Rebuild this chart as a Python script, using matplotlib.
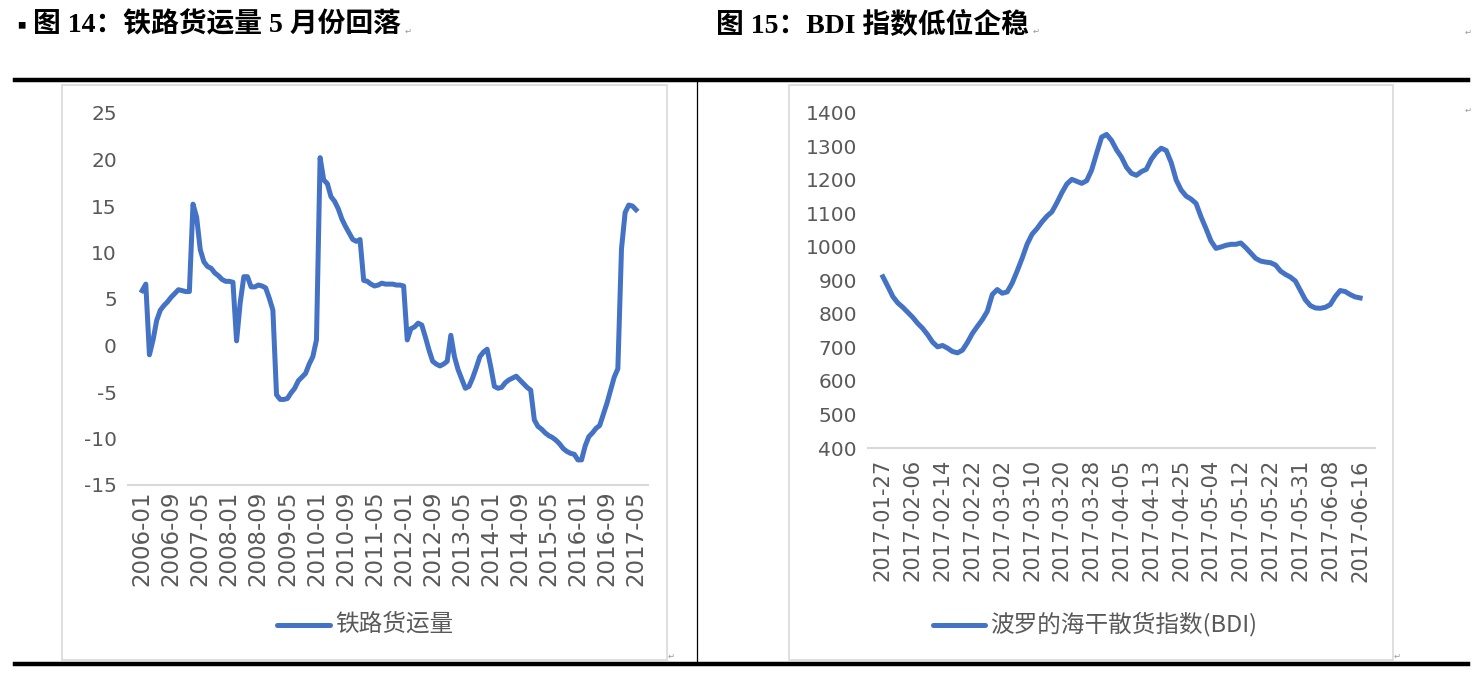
import numpy as np
import matplotlib
matplotlib.use("Agg")
import matplotlib.pyplot as plt
from matplotlib.patches import Rectangle
from matplotlib.lines import Line2D

plt.rcParams["axes.unicode_minus"] = False

# Left chart data: railway freight volume yoy (%), monthly 2006-01 .. 2017-05
rail_values = [
    5.9, 6.6, -1.0, 0.6, 2.7, 3.8, 4.3, 4.7, 5.2, 5.6, 6.0, 5.9, 5.8, 5.8,
    15.2, 13.8, 10.3, 9.0, 8.5, 8.3, 7.8, 7.5, 7.1, 6.9, 6.9, 6.8, 0.5, 4.6,
    7.4, 7.4, 6.3, 6.3, 6.5, 6.4, 6.2, 5.1, 3.8, -5.3, -5.8, -5.8, -5.7, -5.1,
    -4.6, -3.8, -3.4, -3.0, -2.0, -1.2, 0.6, 20.2, 17.8, 17.4, 16.0, 15.5,
    14.7, 13.6, 12.8, 12.1, 11.4, 11.2, 11.4, 7.0, 6.9, 6.6, 6.4, 6.5, 6.7,
    6.6, 6.6, 6.6, 6.5, 6.5, 6.4, 0.6, 1.8, 2.0, 2.4, 2.2, 0.9, -0.5, -1.7,
    -2.0, -2.2, -2.0, -1.7, 1.1, -1.2, -2.6, -3.6, -4.6, -4.4, -3.5, -2.4,
    -1.2, -0.7, -0.4, -2.3, -4.4, -4.6, -4.5, -4.0, -3.7, -3.5, -3.3, -3.7,
    -4.1, -4.5, -4.8, -8.0, -8.7, -9.0, -9.4, -9.7, -9.9, -10.2, -10.6,
    -11.1, -11.4, -11.6, -11.7, -12.3, -12.3, -10.8, -9.8, -9.4, -8.9, -8.6,
    -7.4, -6.2, -4.8, -3.4, -2.5, 10.4, 14.3, 15.1, 15.0, 14.6,
]
rail_ticks = ["2006-01", "2006-09", "2007-05", "2008-01", "2008-09", "2009-05",
              "2010-01", "2010-09", "2011-05", "2012-01", "2012-09", "2013-05",
              "2014-01", "2014-09", "2015-05", "2016-01", "2016-09", "2017-05"]

# Right chart data: BDI, trading days 2017-01-27 .. 2017-06-16
bdi_values = [
    911, 882, 852, 833, 820, 805, 790, 772, 757, 738, 716, 702, 706, 698, 688,
    684, 692, 715, 742, 763, 783, 808, 858, 873, 862, 866, 892, 928, 966, 1008,
    1038, 1055, 1075, 1092, 1105, 1132, 1162, 1188, 1202, 1196, 1190, 1198,
    1230, 1280, 1328, 1336, 1318, 1290, 1268, 1238, 1220, 1214, 1225, 1232,
    1262, 1282, 1295, 1288, 1252, 1200, 1170, 1152, 1143, 1130, 1090, 1055,
    1018, 996, 1000, 1005, 1008, 1008, 1012, 998, 982, 966, 958, 955, 953, 946,
    928, 918, 910, 898, 870, 842, 825, 818, 817, 820, 828, 852, 870, 867, 858,
    851, 848,
]
bdi_ticks = ["2017-01-27", "2017-02-06", "2017-02-14", "2017-02-22", "2017-03-02",
             "2017-03-10", "2017-03-20", "2017-03-28", "2017-04-05", "2017-04-13",
             "2017-04-25", "2017-05-04", "2017-05-12", "2017-05-22", "2017-05-31",
             "2017-06-08", "2017-06-16"]

BLUE = "#4472C4"
GREY = "#595959"
NUM_FONT = ["DejaVu Sans"]
CJK_FONT = ["Noto Sans CJK SC", "DejaVu Sans"]
TITLE_FONT = ["Liberation Serif", "Noto Sans CJK SC", "DejaVu Sans"]

W, H = 1474, 677
fig = plt.figure(figsize=(W / 100, H / 100), dpi=100)


def px(x, y):
    # pixel (top-left origin) -> figure fraction
    return x / W, 1 - y / H


# document frame: titles, rules, divider, chart boxes
fig.text(*px(21, 26), "■", fontsize=6, va="center", ha="center", family=CJK_FONT)
fig.text(*px(33, 25), "图 14：铁路货运量 5 月份回落", fontsize=20, fontweight="bold",
         va="center", ha="left", family=TITLE_FONT)
fig.text(*px(716, 25), "图 15：BDI 指数低位企稳", fontsize=20, fontweight="bold",
         va="center", ha="left", family=TITLE_FONT)
for xx in (405, 1033):
    fig.text(*px(xx, 31), "↵", fontsize=6, color="#999999", va="center", family=CJK_FONT)
for xx, yy in ((1468, 32), (1468, 110), (671, 656), (1397, 656)):
    fig.text(*px(xx, yy), "↵", fontsize=6, color="#999999", va="center", ha="center",
             family=CJK_FONT)

fig.add_artist(Line2D([15 / W, 1468 / W], [1 - 80 / H] * 2, color="black", lw=3.2))
fig.add_artist(Line2D([15 / W, 1468 / W], [1 - 664 / H] * 2, color="black", lw=3.2))
fig.add_artist(Line2D([697 / W] * 2, [1 - 82 / H, 1 - 663 / H], color="black", lw=0.9))

for x0, x1 in ((62, 667), (789, 1393)):
    fig.add_artist(Rectangle((x0 / W, 1 - 660 / H), (x1 - x0) / W, (660 - 85) / H,
                             fill=False, edgecolor="#D9D9D9", lw=1.2))


def style_axes(ax, xsize, xpad):
    for s in ("top", "right", "left"):
        ax.spines[s].set_visible(False)
    ax.spines["bottom"].set_color("#D9D9D9")
    ax.spines["bottom"].set_linewidth(1.5)
    ax.tick_params(axis="y", length=0, colors=GREY, labelsize=14.5, pad=8)
    ax.tick_params(axis="x", length=0, colors=GREY, labelsize=xsize, pad=xpad)
    for lab in ax.get_yticklabels() + ax.get_xticklabels():
        lab.set_family(NUM_FONT)
    ax.patch.set_alpha(0)


# left chart
ax1 = fig.add_axes([128 / W, 1 - 485 / H, (648 - 128) / W, (485 - 113) / H])
x1 = np.arange(len(rail_values))
ax1.plot(x1, rail_values, color=BLUE, lw=3.6, solid_joinstyle="round")
ax1.set_ylim(-15, 25)
ax1.set_yticks(range(-15, 26, 5))
ax1.set_xlim(-3.9, 139.3)
ax1.set_xticks(np.arange(0, len(rail_values), 8))
ax1.set_xticklabels(rail_ticks, rotation=90)
style_axes(ax1, 16.5, 4)

# right chart
ax2 = fig.add_axes([868 / W, 1 - 448 / H, (1375 - 868) / W, (448 - 113) / H])
x2 = np.arange(len(bdi_values))
ax2.plot(x2, bdi_values, color=BLUE, lw=3.6, solid_joinstyle="round")
ax2.set_ylim(400, 1400)
ax2.set_yticks(range(400, 1401, 100))
ax2.set_xlim(-3.0, 99.0)
ax2.set_xticks(np.arange(0, len(bdi_values), 6))
ax2.set_xticklabels(bdi_ticks, rotation=90)
style_axes(ax2, 15.2, 8)

# legends
fig.add_artist(Line2D([277 / W, 330 / W], [1 - 625 / H] * 2, color=BLUE, lw=3.6,
                      solid_capstyle="round"))
fig.text(*px(335, 624), "铁路货运量", fontsize=17, color=GREY, va="center",
         ha="left", family=CJK_FONT)
fig.add_artist(Line2D([933 / W, 985 / W], [1 - 625 / H] * 2, color=BLUE, lw=3.6,
                      solid_capstyle="round"))
fig.text(*px(990, 624), "波罗的海干散货指数(BDI)", fontsize=17, color=GREY,
         va="center", ha="left", family=CJK_FONT)

fig.savefig("out.png", dpi=100)
